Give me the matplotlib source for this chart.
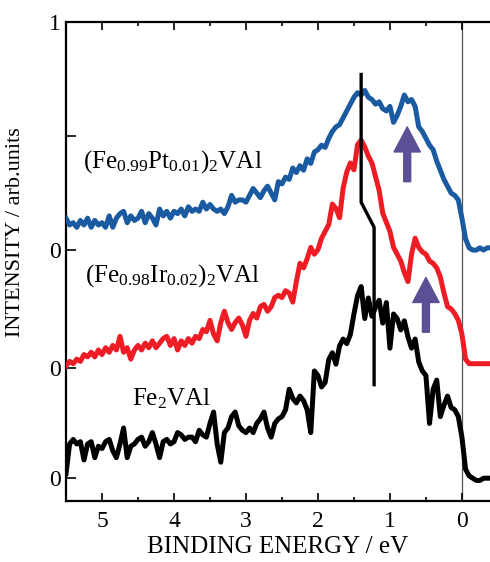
import numpy as np
import matplotlib
matplotlib.use("Agg")
import matplotlib.pyplot as plt
from matplotlib.patches import FancyArrowPatch, ArrowStyle

plt.rcParams["font.family"] = ["Liberation Serif", "DejaVu Serif"]
plt.rcParams["mathtext.fontset"] = "custom"
plt.rcParams["mathtext.rm"] = "Liberation Serif"
plt.rcParams["mathtext.it"] = "Liberation Serif:italic"

# binding energy grid (eV), 5.5 -> -0.4
energy = np.round(np.arange(5.5, -0.41, -0.05), 2)

# (Fe0.99Pt0.01)2VAl
pt_int = [0.14, 0.11, 0.12, 0.10, 0.13, 0.11, 0.14, 0.10, 0.13, 0.11,
          0.12, 0.10, 0.15, 0.10, 0.14, 0.16, 0.17, 0.12, 0.15, 0.13,
          0.14, 0.17, 0.12, 0.16, 0.14, 0.11, 0.18, 0.15, 0.17, 0.14,
          0.17, 0.16, 0.18, 0.15, 0.19, 0.17, 0.18, 0.17, 0.21, 0.18,
          0.20, 0.18, 0.17, 0.18, 0.16, 0.19, 0.24, 0.21, 0.22, 0.22,
          0.21, 0.24, 0.27, 0.25, 0.23, 0.26, 0.28, 0.25, 0.22, 0.30,
          0.29, 0.32, 0.31, 0.36, 0.34, 0.37, 0.35, 0.40, 0.38, 0.43,
          0.44, 0.46, 0.45, 0.49, 0.52, 0.54, 0.55, 0.58, 0.61, 0.64,
          0.67, 0.69, 0.68, 0.70, 0.67, 0.66, 0.64, 0.65, 0.62, 0.61,
          0.63, 0.56, 0.59, 0.63, 0.68, 0.65, 0.66, 0.63, 0.54, 0.52,
          0.49, 0.46, 0.44, 0.39, 0.35, 0.31, 0.28, 0.25, 0.24, 0.22,
          0.14, 0.05, 0.01, 0.00, 0.00, 0.01, 0.00, 0.01, 0.01]

# (Fe0.98Ir0.02)2VAl
ir_int = [0.01, 0.03, 0.02, 0.04, 0.03, 0.06, 0.05, 0.07, 0.05, 0.08,
          0.06, 0.09, 0.07, 0.10, 0.08, 0.14, 0.07, 0.09, 0.04, 0.08,
          0.10, 0.08, 0.11, 0.09, 0.12, 0.09, 0.11, 0.13, 0.14, 0.10,
          0.13, 0.08, 0.12, 0.10, 0.13, 0.11, 0.14, 0.13, 0.17, 0.16,
          0.21, 0.15, 0.12, 0.20, 0.25, 0.20, 0.17, 0.20, 0.22, 0.19,
          0.14, 0.21, 0.24, 0.22, 0.27, 0.28, 0.25, 0.27, 0.31, 0.32,
          0.31, 0.34, 0.33, 0.29, 0.38, 0.46, 0.44, 0.48, 0.53, 0.50,
          0.52, 0.57, 0.60, 0.63, 0.72, 0.70, 0.66, 0.79, 0.86, 0.90,
          0.87, 0.98, 1.00, 0.97, 0.93, 0.90, 0.84, 0.78, 0.68, 0.64,
          0.60, 0.53, 0.50, 0.47, 0.42, 0.38, 0.50, 0.57, 0.53, 0.51,
          0.50, 0.47, 0.46, 0.44, 0.40, 0.33, 0.27, 0.26, 0.24, 0.21,
          0.15, 0.04, 0.02, 0.02, 0.02, 0.02, 0.02, 0.02, 0.02]

# Fe2VAl
fe_int = [0.02, 0.15, 0.17, 0.15, 0.16, 0.08, 0.15, 0.16, 0.09, 0.14,
          0.13, 0.16, 0.17, 0.12, 0.09, 0.15, 0.22, 0.09, 0.14, 0.15,
          0.17, 0.18, 0.14, 0.16, 0.20, 0.15, 0.09, 0.16, 0.17, 0.15,
          0.16, 0.20, 0.19, 0.17, 0.18, 0.18, 0.16, 0.21, 0.19, 0.18,
          0.24, 0.29, 0.15, 0.07, 0.20, 0.22, 0.27, 0.29, 0.23, 0.21,
          0.20, 0.22, 0.20, 0.24, 0.26, 0.29, 0.22, 0.18, 0.24, 0.26,
          0.27, 0.30, 0.39, 0.35, 0.33, 0.36, 0.34, 0.30, 0.20, 0.47,
          0.45, 0.40, 0.42, 0.52, 0.55, 0.50, 0.58, 0.61, 0.59, 0.63,
          0.72, 0.80, 0.84, 0.70, 0.79, 0.71, 0.75, 0.78, 0.68, 0.77,
          0.57, 0.72, 0.70, 0.65, 0.69, 0.62, 0.57, 0.61, 0.51, 0.47,
          0.45, 0.24, 0.39, 0.43, 0.27, 0.32, 0.36, 0.31, 0.30, 0.27,
          0.18, 0.04, 0.01, 0.00, -0.01, -0.01, 0.00, 0.00, 0.00]

# odd spike trace seen on the Fe2VAl spectrum
spike_e = [1.40, 1.40, 1.22, 1.22]
spike_y = [1.77, 1.21, 1.10, 0.41]

# vertical offsets of the spectra
fe_off, ir_off, pt_off = 0.0, 0.482, 1.0

# arrows marking the impurity states (energy, start, end)
arrow_e = [0.76, 0.50]
arrow_y0 = [1.30, 0.64]
arrow_y1 = [1.54, 0.88]

fig = plt.figure(figsize=(4.9, 5.62), dpi=100)
ax = fig.add_axes([66 / 490, 61 / 562, 1 - 66 / 490, 479 / 562])

ax.axvline(0, color="#555555", lw=0.9, zorder=1)
ax.plot(energy, np.array(pt_int) + pt_off, color="#1a5aa0", lw=3.6, zorder=3)
ax.plot(energy, np.array(ir_int) + ir_off, color="#ee1c24", lw=3.6, zorder=3)
ax.plot(energy, np.array(fe_int) + fe_off, color="black", lw=3.6, zorder=3)
ax.plot(spike_e, spike_y, color="black", lw=2.4, zorder=4)

style = ArrowStyle("Simple", head_length=18, head_width=19, tail_width=5)
for e, y0, y1 in zip(arrow_e, arrow_y0, arrow_y1):
    ax.add_patch(FancyArrowPatch((e, y0), (e, y1), arrowstyle=style,
                                 mutation_scale=1, color="#5b4f96",
                                 shrinkA=0, shrinkB=0, zorder=5))

ax.text(5.26, 1.36, r"(Fe$_\mathrm{0.99}$Pt$_\mathrm{0.01}$)$_\mathrm{2}$VAl",
        fontsize=18, va="baseline")
ax.text(5.24, 0.86, r"(Fe$_\mathrm{0.98}$Ir$_\mathrm{0.02}$)$_\mathrm{2}$VAl",
        fontsize=18, va="baseline")
ax.text(4.58, 0.32, r"Fe$_\mathrm{2}$VAl", fontsize=18, va="baseline")

ax.set_xlim(5.5, -0.39)
ax.set_ylim(-0.10, 2.0)
ax.set_xticks([5, 4, 3, 2, 1, 0])
ax.set_xticks([4.5, 3.5, 2.5, 1.5, 0.5], minor=True)
ax.set_yticks([fe_off, ir_off, pt_off, 1.5, 2.0])
ax.set_yticklabels(["0", "0", "0", "", "1"])

ax.spines["right"].set_visible(False)
for s in ["left", "top", "bottom"]:
    ax.spines[s].set_linewidth(1.6)
ax.tick_params(axis="x", which="both", direction="in", top=True, labelsize=17, width=1.2, pad=7)
ax.tick_params(axis="x", which="major", length=6)
ax.tick_params(axis="x", which="minor", length=3)
ax.tick_params(axis="y", direction="in", length=7, width=1.2, labelsize=17, pad=4)

ax.set_xlabel("BINDING ENERGY / eV", fontsize=18, labelpad=3)
ax.set_ylabel("INTENSITY / arb.units", fontsize=16)
ax.yaxis.set_label_coords(-0.097, 0.562)

fig.savefig("out.png", dpi=100)
